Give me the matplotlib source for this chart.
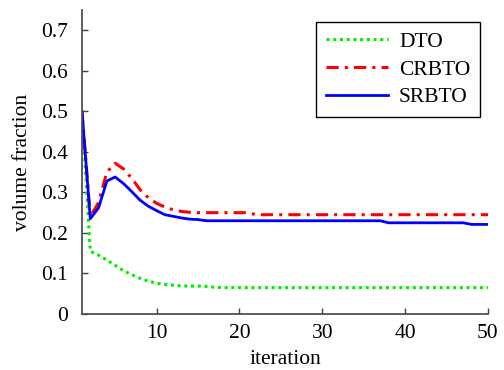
import matplotlib
matplotlib.use("Agg")
import matplotlib.pyplot as plt
import numpy as np

iterations = list(range(1, 51))
dto = [0.5, 0.155, 0.145, 0.133, 0.12, 0.107, 0.097, 0.088, 0.081, 0.076,
       0.073, 0.071, 0.069, 0.069, 0.069, 0.068, 0.066] + [0.065] * 33
crbto = [0.5, 0.24, 0.275, 0.35, 0.372, 0.358, 0.335, 0.307, 0.287, 0.273,
         0.264, 0.257, 0.253, 0.251, 0.25, 0.25, 0.25, 0.25, 0.25, 0.25, 0.25] + [0.245] * 29
srbto = [0.5, 0.235, 0.262, 0.328, 0.338, 0.322, 0.302, 0.281, 0.266, 0.255,
         0.245, 0.241, 0.237, 0.234, 0.233] + [0.23] * 22 + [0.225] * 10 + [0.221] * 3
xticks = [10, 20, 30, 40, 50]
yticks = [0, 0.1, 0.2, 0.3, 0.4, 0.5, 0.6, 0.7]
ytick_labels = ["0", "0.1", "0.2", "0.3", "0.4", "0.5", "0.6", "0.7"]

plt.rcParams['font.family'] = ['Liberation Serif', 'DejaVu Serif']
FS = 15.5

fig = plt.figure(figsize=(5.04, 3.70), dpi=100)
ax = fig.add_axes([82/504, 1-314/370, (488-82)/504, (314-10)/370])

ax.plot(iterations, dto, color='#00ee00', linestyle=(0, (1, 1.2)), linewidth=2.2, label='DTO')
ax.plot(iterations, crbto, color='#ff0000', linestyle=(0, (4, 2, 1, 2)), linewidth=2.2, label='CRBTO')
ax.plot(iterations, srbto, color='#0000ff', linestyle='-', linewidth=2.0, label='SRBTO')

ax.set_xlim(1, 50)
ax.set_ylim(0, 0.75)
ax.set_xticks(xticks)
ax.set_yticks(yticks)
ax.set_yticklabels(ytick_labels)
ax.tick_params(direction='in', length=4, labelsize=FS, colors='#404040', labelcolor='black', width=1)
ax.tick_params(axis='x', pad=7)
ax.tick_params(axis='y', pad=10)
for s in ['top', 'right']:
    ax.spines[s].set_visible(False)
for s in ['left', 'bottom']:
    ax.spines[s].set_color('#505050')
    ax.spines[s].set_linewidth(1.3)

ax.set_xlabel('iteration', fontsize=FS, labelpad=5)
ax.set_ylabel('volume fraction', fontsize=FS, labelpad=7)

leg = ax.legend(loc='upper right', bbox_to_anchor=(0.98, 0.96), borderaxespad=0, fontsize=FS,
                fancybox=False, edgecolor='black', framealpha=1,
                handlelength=2.9, borderpad=0.45, labelspacing=0.35, handletextpad=0.5)
leg.get_frame().set_linewidth(1.0)

fig.savefig('out.png', dpi=100)
